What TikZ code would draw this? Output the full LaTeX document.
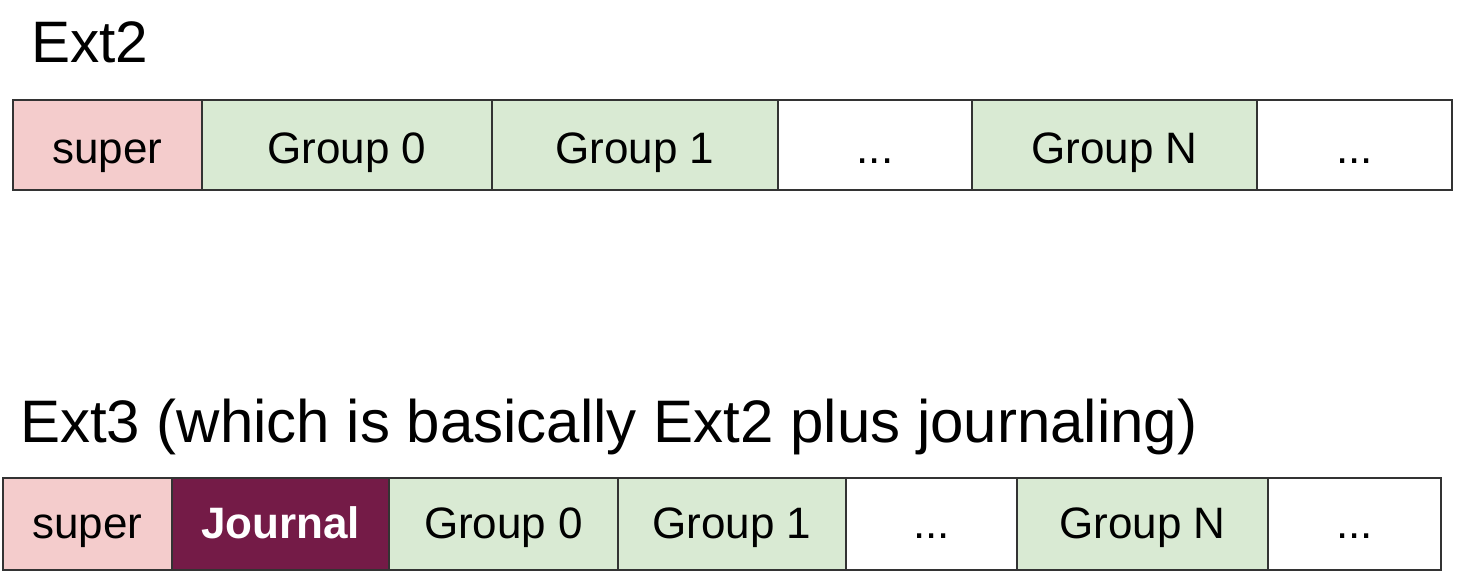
\documentclass[tikz,border=0pt]{standalone}
\usepackage{fontspec}
\setmainfont{Liberation Sans}
\usetikzlibrary{positioning}
\definecolor{superred}{HTML}{F4CCCC}
\definecolor{groupgreen}{HTML}{D9EAD3}
\definecolor{journalplum}{HTML}{741B47}
\begin{document}
\begin{tikzpicture}[x=1pt,y=-1pt,
    blk/.style={draw=black!80,line width=1.8pt,outer sep=0pt,inner sep=0pt,
      minimum height=90pt,text height=36pt,text depth=0pt,
      font=\fontsize{44}{48}\selectfont,anchor=west},
    superblk/.style={blk,fill=superred},
    groupblk/.style={blk,fill=groupgreen},
    journalblk/.style={blk,fill=journalplum,text=white,font=\fontsize{44}{48}\selectfont\bfseries},
    restblk/.style={blk,fill=white},
    title/.style={anchor=base west,inner sep=0pt}]
    \useasboundingbox (0,0) rectangle (1465,584);
    % Ext2
    \node[title,font=\fontsize{58.5}{62}\selectfont] (ext2) at (31,62) {Ext2};
    \node[superblk,minimum width=189] (a-super) at (13,145) {super};
    \node[groupblk,minimum width=290,right=0pt of a-super] (a-g0) {Group 0};
    \node[groupblk,minimum width=286,right=0pt of a-g0] (a-g1) {Group 1};
    \node[restblk,minimum width=194,right=0pt of a-g1] (a-dots) {...};
    \node[groupblk,minimum width=285,right=0pt of a-dots] (a-gn) {Group N};
    \node[restblk,minimum width=195,right=0pt of a-gn] (a-rest) {...};
    % Ext3 = Ext2 + journal
    \node[title,font=\fontsize{60}{64}\selectfont] (ext3) at (20,442) {Ext3 (which is basically Ext2 plus journaling)};
    \begin{scope}[blk/.append style={minimum height=92pt,text height=28pt}]
        \node[superblk,minimum width=169] (b-super) at (3,524) {super};
        \node[journalblk,minimum width=217,right=0pt of b-super] (b-journal) {Journal};
        \node[groupblk,minimum width=229,right=0pt of b-journal] (b-g0) {Group 0};
        \node[groupblk,minimum width=228,right=0pt of b-g0] (b-g1) {Group 1};
        \node[restblk,minimum width=171,right=0pt of b-g1] (b-dots) {...};
        \node[groupblk,minimum width=251,right=0pt of b-dots] (b-gn) {Group N};
        \node[restblk,minimum width=173,right=0pt of b-gn] (b-rest) {...};
    \end{scope}
\end{tikzpicture}
\end{document}
